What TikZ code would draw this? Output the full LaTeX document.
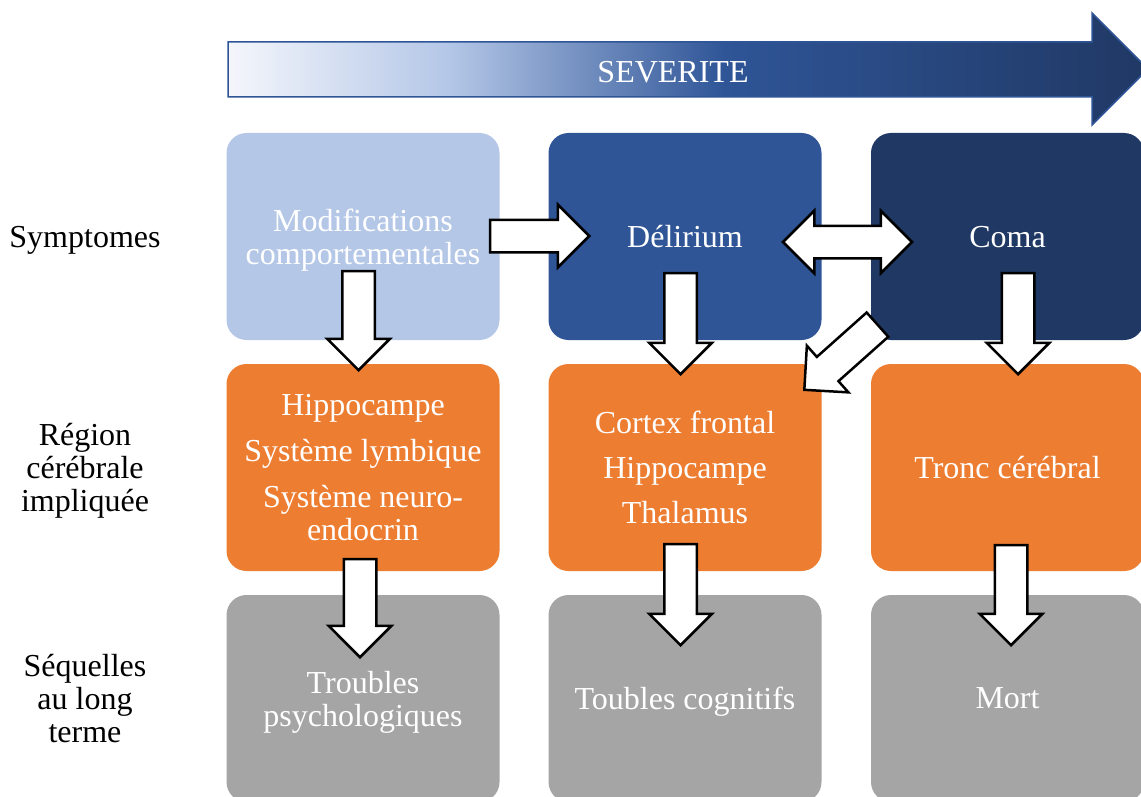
\documentclass[tikz,border=0pt]{standalone}
\usepackage{fontspec}
\setmainfont{Liberation Serif}
\usepackage{xcolor}
\usetikzlibrary{shapes.arrows,positioning,calc}

\definecolor{paleblue}{HTML}{F4F6FB}
\definecolor{lightblue}{HTML}{B4C7E7}
\definecolor{midblue}{HTML}{2F5597}
\definecolor{darkblue}{HTML}{203864}
\definecolor{orangebox}{HTML}{ED7D31}
\definecolor{graybox}{HTML}{A5A5A5}
\pgfdeclarehorizontalshading{severite}{100bp}{color(0bp)=(paleblue); color(25bp)=(paleblue); color(37bp)=(lightblue); color(52bp)=(midblue); color(75bp)=(darkblue); color(100bp)=(darkblue)}

\begin{document}
\begin{tikzpicture}[x=1pt, y=-1pt,
    txt/.style={font=\fontsize{32}{33}\selectfont, align=center, inner sep=0pt, text depth=0pt},
    box/.style={txt, rectangle, rounded corners=20pt, minimum width=273pt, minimum height=207pt, text=white},
    blockarrow/.style={single arrow, draw=black, fill=white, line width=2.5pt, minimum width=60pt, single arrow head extend=15pt, inner xsep=0pt, inner ysep=15pt}]
    \useasboundingbox (0,0) rectangle (1141,797);
    \clip (0,0) rectangle (1141,797);

    % severity arrow
    \shade[shading=severite, draw=midblue, line width=1.5pt] (228,42) -- (1092,42) -- (1092,13) -- (1148,69) -- (1092,125) -- (1092,97) -- (228,97) -- cycle;
    \node[txt, text=white] (sev) at (673,72) {SEVERITE};

    % row labels
    \node[txt] (lsym) at (85,237) {Symptomes};
    \node[txt] (lreg) at (85,467) {Région\\cérébrale\\impliquée};
    \node[txt] (lseq) at (85,698) {Séquelles\\au long\\terme};

    % symptoms
    \node[box, fill=lightblue] (sym1) at (363,236.5) {Modifications\\comportementales};
    \node[box, fill=midblue] (sym2) at (685,236.5) {Délirium};
    \node[box, fill=darkblue] (sym3) at (1007.5,236.5) {Coma};

    % brain regions
    \node[box, fill=orangebox] (reg1) at (363,467.5) {Hippocampe\\[13pt]Système lymbique\\[13pt]Système neuro-\\endocrin};
    \node[box, fill=orangebox] (reg2) at (685,467.5) {Cortex frontal\\[12pt]Hippocampe\\[12pt]Thalamus};
    \node[box, fill=orangebox] (reg3) at (1007.5,467.5) {Tronc cérébral};

    % long term
    \node[box, fill=graybox] (seq1) at (363,698.5) {Troubles\\psychologiques};
    \node[box, fill=graybox] (seq2) at (685,698.5) {Toubles cognitifs};
    \node[box, fill=graybox] (seq3) at (1007.5,698.5) {Mort};

    % block arrows
    \node[blockarrow, anchor=tip, minimum height=99pt] (a12) at (591,236) {};
    \node[double arrow, draw=black, fill=white, line width=2.5pt, minimum width=61pt, double arrow head extend=15pt, inner xsep=0pt, inner ysep=15pt, minimum height=129pt] (a23) at (847.5,242) {};
    \node[blockarrow, rotate=-90, anchor=tip, minimum height=99pt] (d11) at (358.5,372) {};
    \node[blockarrow, rotate=-90, anchor=tip, minimum height=98pt] (d12) at (360,659) {};
    \node[blockarrow, rotate=-90, anchor=tip, minimum height=101pt] (d21) at (680.5,376) {};
    \node[blockarrow, rotate=-90, anchor=tip, minimum height=101pt] (d22) at (680.5,647) {};
    \node[blockarrow, rotate=-90, anchor=tip, minimum height=101pt] (d31) at (1018,376) {};
    \node[blockarrow, rotate=-90, anchor=tip, minimum height=100pt] (d32) at (1011,647) {};
    \node[blockarrow, rotate=221.7, anchor=tip, minimum height=98pt] (diag) at (803,391) {};
\end{tikzpicture}
\end{document}
